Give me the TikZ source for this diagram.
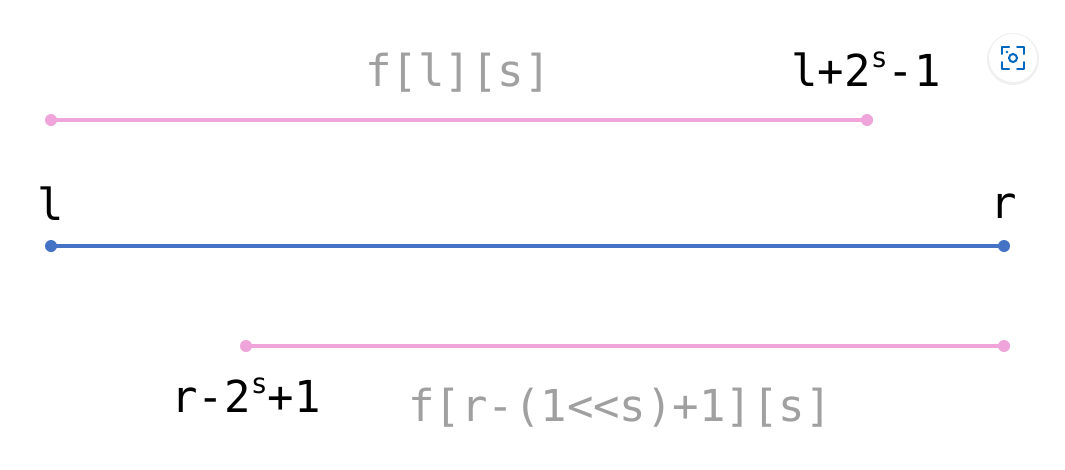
\documentclass[tikz,border=0pt]{standalone}
\usepackage{fontspec}
\newfontfamily\codefont{DejaVu Sans Mono}
\definecolor{segpink}{RGB}{240,165,218}
\definecolor{segblue}{RGB}{68,114,196}
\definecolor{labgray}{RGB}{160,160,160}
\definecolor{iconblue}{RGB}{0,103,192}
\newcommand{\supS}{\raisebox{0.42em}{\fontsize{28}{28}\selectfont s}}
\tikzset{
  dotpink/.style={circle,fill=segpink,inner sep=0pt,minimum size=12pt},
  dotblue/.style={circle,fill=segblue,inner sep=0pt,minimum size=12pt},
  segp/.style={draw=segpink,line width=3.6pt},
  segb/.style={draw=segblue,line width=3.8pt},
  lab/.style={inner sep=0pt,anchor=base,font=\codefont\fontsize{44}{50}\selectfont,text=black},
  glab/.style={lab,text=labgray},
}
\begin{document}
\begin{tikzpicture}[x=1pt,y=-1pt]
\useasboundingbox[fill=white] (0,0) rectangle (1065,469);
% top segment
\node[dotpink] (a1) at (51,120) {};
\node[dotpink] (a2) at (867,120) {};
\draw[segp] (a1.center) -- (a2.center);
% main segment
\node[dotblue] (l) at (51,246) {};
\node[dotblue] (r) at (1004,246) {};
\draw[segb] (l.center) -- (r.center);
% bottom segment
\node[dotpink] (b1) at (246,346) {};
\node[dotpink] (b2) at (1004,346) {};
\draw[segp] (b1.center) -- (b2.center);
% labels
\node[glab] (fl) at (458,86) {f[l][s]};
\node[lab] (ltop) at (866,86) {l+2\supS-1};
\node[lab] (lL) at (51,220) {l};
\node[lab] (rR) at (1004,218) {r};
\node[lab] (rbot) at (246,412) {r-2\supS+1};
\node[glab] (fr) at (620,421) {f[r-(1<<s)+1][s]};
% overlay icon
\node[circle,fill=black!6,inner sep=0pt,minimum size=52pt] (iconsh) at (1013,59) {};
\node[circle,fill=white,inner sep=0pt,minimum size=48pt] (icon) at (1013,58) {};
\begin{scope}[draw=iconblue,line width=2pt,line cap=round,line join=round]
\draw (icon.center) ++(-11,-4) -- ++(0,-7) -- ++(7,0);
\draw (icon.center) ++(4,-11) -- ++(7,0) -- ++(0,7);
\draw (icon.center) ++(11,4) -- ++(0,7) -- ++(-7,0);
\draw (icon.center) ++(-4,11) -- ++(-7,0) -- ++(0,-7);
\draw (icon.center) circle (4pt);
\end{scope}
\fill[iconblue] (icon.center) ++(-6,-6) circle (1.3pt);
\end{tikzpicture}
\end{document}
